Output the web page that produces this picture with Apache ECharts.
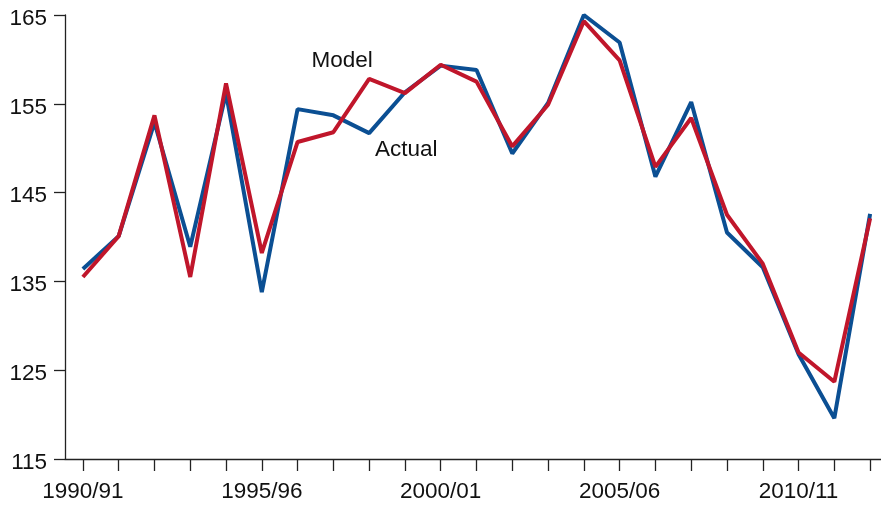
<!DOCTYPE html>
<html>
<head>
<meta charset="utf-8">
<script src="https://cdn.jsdelivr.net/npm/echarts@6/dist/echarts.min.js"></script>
<style>
  html, body { margin: 0; padding: 0; background: #fff; }
  #chart { width: 881px; height: 508px; }
</style>
</head>
<body>
<div id="chart"></div>
<script>
// financial years 1990/91 .. 2012/13
var years = ['1990/91', '1991/92', '1992/93', '1993/94', '1994/95', '1995/96', '1996/97',
  '1997/98', '1998/99', '1999/00', '2000/01', '2001/02', '2002/03', '2003/04', '2004/05',
  '2005/06', '2006/07', '2007/08', '2008/09', '2009/10', '2010/11', '2011/12', '2012/13'];

var actual = [136.4, 140.1, 152.9, 138.9, 156.2, 133.8, 154.4, 153.7, 151.7, 156.3, 159.3, 158.8,
  149.4, 155.1, 165.0, 161.9, 146.8, 155.2, 140.5, 136.6, 126.8, 119.6, 142.6];

var model = [135.5, 140.1, 153.7, 135.5, 157.3, 138.2, 150.7, 151.8, 157.8, 156.2, 159.4, 157.5,
  150.2, 154.9, 164.3, 159.9, 147.9, 153.4, 142.5, 137.0, 127.0, 123.7, 142.1];

var yTicks = [115, 125, 135, 145, 155, 165];

var axisColor = '#222';
var font = 'Liberation Sans, Arial, sans-serif';

var chart = echarts.init(document.getElementById('chart'));

var option = {
  backgroundColor: '#fff',
  animation: false,
  grid: {
    left: 65,
    top: 15,
    width: 823,
    bottom: 49,
    containLabel: false,
    outerBoundsMode: 'none'
  },
  xAxis: {
    type: 'category',
    data: years,
    boundaryGap: true,
    axisLine: { show: true, lineStyle: { color: axisColor, width: 1.3 } },
    axisTick: {
      show: true,
      alignWithLabel: true,
      interval: 0,
      length: 12,
      lineStyle: { color: axisColor, width: 1.3 }
    },
    axisLabel: {
      interval: 4,
      margin: 21,
      color: '#111',
      fontSize: 22.5,
      fontFamily: font
    },
    splitLine: { show: false }
  },
  yAxis: {
    type: 'value',
    min: yTicks[0],
    max: yTicks[yTicks.length - 1],
    interval: 10,
    axisLine: { show: true, lineStyle: { color: axisColor, width: 1.3 } },
    axisTick: { show: true, length: 11, lineStyle: { color: axisColor, width: 1.3 } },
    axisLabel: {
      margin: 18,
      color: '#111',
      fontSize: 22.5,
      fontFamily: font,
      verticalAlign: 'top',
      lineHeight: 7
    },
    splitLine: { show: false }
  },
  series: [
    {
      name: 'Actual',
      type: 'line',
      data: actual,
      symbol: 'none',
      lineStyle: { color: '#0b4f93', width: 4 },
      itemStyle: { color: '#0b4f93' },
      markPoint: {
        symbol: 'circle',
        symbolSize: 0,
        data: [{ coord: [8, actual[8]] }],
        label: {
          show: true,
          formatter: 'Actual',
          offset: [37, 17],
          color: '#111',
          fontSize: 22.5,
          fontFamily: font
        }
      }
    },
    {
      name: 'Model',
      type: 'line',
      data: model,
      symbol: 'none',
      lineStyle: { color: '#c0162b', width: 4 },
      itemStyle: { color: '#c0162b' },
      markPoint: {
        symbol: 'circle',
        symbolSize: 0,
        data: [{ coord: [8, model[8]] }],
        label: {
          show: true,
          formatter: 'Model',
          offset: [-27, -18],
          color: '#111',
          fontSize: 22.5,
          fontFamily: font
        }
      }
    }
  ]
};

chart.setOption(option);
</script>
</body>
</html>
